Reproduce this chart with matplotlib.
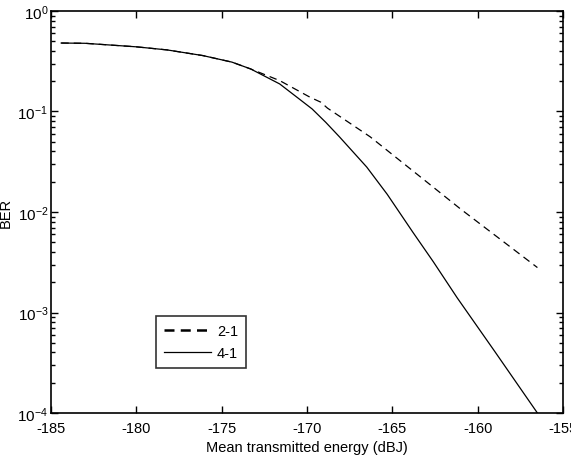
import matplotlib
matplotlib.use("Agg")
import matplotlib.pyplot as plt
from matplotlib.lines import Line2D
from matplotlib.ticker import LogLocator, FixedLocator, FixedFormatter, NullFormatter

plt.rcParams['font.family'] = ['Liberation Sans', 'DejaVu Sans']
plt.rcParams['mathtext.fontset'] = 'custom'
plt.rcParams['mathtext.rm'] = 'Liberation Sans'
plt.rcParams['mathtext.it'] = 'Liberation Sans'
plt.rcParams['mathtext.default'] = 'regular'

# 2-1 scheme (dashed)
x_21 = [-184.4, -183.0, -180.0, -178.2, -176.1, -174.4, -173.3, -171.6, -169.8,
        -169.2, -168.8, -166.3, -163.0, -161.0, -156.5]
ber_21 = [0.48, 0.477, 0.44, 0.41, 0.36, 0.31, 0.265, 0.203, 0.138,
          0.124, 0.108, 0.056, 0.020, 0.0107, 0.0028]

# 4-1 scheme (solid)
x_41 = [-184.4, -183.0, -180.0, -178.2, -176.1, -174.4, -173.3, -171.6, -170.5,
        -169.7, -168.9, -168.1, -166.5, -165.3, -163.8, -162.6, -161.2, -159.0, -156.5]
ber_41 = [0.48, 0.477, 0.44, 0.41, 0.36, 0.31, 0.265, 0.188, 0.135,
          0.106, 0.078, 0.056, 0.028, 0.015, 0.0063, 0.0032, 0.0014, 4.1e-4, 1.0e-4]

x_ticks = [-185, -180, -175, -170, -165, -160, -155]
y_ticks = [1e-4, 1e-3, 1e-2, 1e-1, 1e0]
y_ticklabels = ['$10^{-4}$', '$10^{-3}$', '$10^{-2}$', '$10^{-1}$', '$10^{0}$']
legend_labels = ['2-1', '4-1']

fig = plt.figure(figsize=(5.71, 4.56), dpi=100)
ax = fig.add_axes([0.0893, 0.0921, 0.8967, 0.8816])

ax.plot(x_21, ber_21, color='black', linestyle=(0, (6, 4)), linewidth=0.9)
ax.plot(x_41, ber_41, color='black', linestyle='-', linewidth=0.9)

ax.set_yscale('log')
ax.set_xlim(-185, -155)
ax.set_ylim(1e-4, 1)
ax.xaxis.set_major_locator(FixedLocator(x_ticks))
ax.set_xticklabels([str(t) for t in x_ticks])
ax.yaxis.set_major_locator(FixedLocator(y_ticks))
ax.yaxis.set_major_formatter(FixedFormatter(y_ticklabels))
ax.yaxis.set_minor_locator(LogLocator(base=10, subs=range(2, 10)))
ax.yaxis.set_minor_formatter(NullFormatter())

ax.tick_params(which='both', direction='in', top=True, right=True, labelsize=10.5,
               width=1, colors='black')
ax.tick_params(which='major', length=5)
ax.tick_params(which='minor', length=3)
ax.tick_params(axis='x', which='major', pad=6)
ax.tick_params(axis='y', which='major', pad=2, labelsize=11)
for s in ax.spines.values():
    s.set_linewidth(1.2)

ax.set_xlabel('Mean transmitted energy (dBJ)', fontsize=10.5, labelpad=3)
ax.set_ylabel('BER', fontsize=10.5)
ax.yaxis.set_label_coords(-0.074, 0.5)

handles = [Line2D([], [], color='black', linestyle=(0, (4, 2.5)), linewidth=1.8),
           Line2D([], [], color='black', linestyle='-', linewidth=0.9)]
leg = ax.legend(handles, legend_labels, loc='upper left',
                bbox_to_anchor=(0.206, 0.241), borderaxespad=0,
                fontsize=10.5, frameon=True, fancybox=False, handlelength=3.2,
                handletextpad=0.4, borderpad=0.55, labelspacing=0.55)
leg.get_frame().set_edgecolor('black')
leg.get_frame().set_linewidth(1.2)

fig.savefig('out.png', dpi=100)
